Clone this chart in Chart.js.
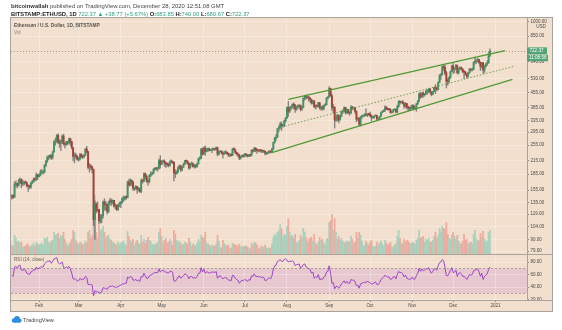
<!DOCTYPE html>
<html><head><meta charset="utf-8">
<script src="https://cdn.jsdelivr.net/npm/chart.js@4.4.1/dist/chart.umd.min.js"></script>
<style>html,body{margin:0;padding:0;background:#fff;overflow:hidden}canvas{display:block}</style>
</head><body>
<canvas id="c" width="562" height="330"></canvas>
<script>
// ---- Daily candles, BITSTAMP:ETHUSD, 12 Jan 2020 (index 0) .. 28 Dec 2020 (index 351) ----
const opens = [
143.5,146.5,143.6,165.6,166.4,163.7,171.2,174.4,166.5,166.9,169.6,168.5,162.9,162.4,160.8,168.3,170.4,175.1,174.8,184.1,
180.0,183.2,188.9,189.0,189.5,204.0,212.5,222.5,223.4,228.3,222.9,236.7,265.0,268.5,284.5,264.5,260.5,267.0,282.0,259.0,257.5,265.0,261.8,274.0,265.0,248.0,225.0,227.5,226.0,
218.0,218.5,231.0,224.5,224.0,228.5,244.5,237.5,199.5,201.0,200.5,195.0,112.0,133.0,124.0,125.5,110.5,113.5,117.0,136.0,132.0,132.5,122.5,135.0,138.0,136.0,138.5,130.0,131.0,125.0,132.0,
133.5,135.5,141.0,141.5,144.0,143.0,169.5,164.5,173.0,170.0,158.0,158.5,161.5,156.5,157.5,153.0,172.0,171.0,186.5,180.0,171.5,170.5,182.5,185.0,187.0,194.5,197.5,196.5,197.0,215.0,
206.5,212.0,214.0,210.0,208.0,206.0,204.0,212.5,212.5,211.0,188.0,186.0,189.5,199.0,203.0,194.0,200.0,206.5,214.0,213.5,209.0,198.5,207.0,207.5,201.0,204.0,201.0,208.0,219.5,220.0,244.0,
231.0,247.0,237.5,244.0,244.5,240.5,242.0,244.0,245.0,243.5,248.0,231.0,237.0,239.0,234.0,231.0,235.0,235.5,233.0,229.0,229.5,227.5,244.0,243.0,236.0,232.0,229.5,221.5,225.0,228.0,
226.0,231.0,229.0,225.0,229.0,228.0,241.0,239.0,247.0,242.0,241.5,239.5,242.0,239.0,240.0,238.0,232.5,233.0,236.0,239.0,236.0,245.0,263.0,275.0,279.0,305.0,311.0,322.0,317.0,318.0,334.0,
345,386,371,386,389,401,395,379,391,391,395,379,387,428,437,433,433,429,423,406,416,389,395,392,408,384,386,382,395,399,428,
434,478,440,385,388,336,353,353,337,351,368,374,387,365,377,364,365,389,384,385,370,340,344,321,348,351,354,357,355,360,
359,353,346,346,352,354,340,341,350,365,370,375,387,381,379,378,366,368,377,379,368,392,414,409,411,406,393,404,388,386,382,
386,395,383,387,402,415,449,434,454,444,449,462,462,475,461,447,460,480,479,472,509,549,557,608,603,567,518,517,538,574,
614,587,597,616,569,596,601,592,574,573,560,545,567,591,586,590,636,644,654,657,638,608,635,584,612,626,634,683.85
];
const highs = [
147.4,147.2,170.0,172.0,167.5,175.0,178.0,176.0,173.5,170.5,172.0,169.5,163.5,164.0,168.5,173.0,177.5,178.0,187.5,184.5,
185.5,194.0,195.5,192.0,205.5,215.5,226.0,227.5,229.5,229.0,239.0,268.0,276.0,287.0,290.0,271.0,270.0,285.0,288.0,262.0,266.0,266.0,275.5,275.5,266.0,249.0,234.0,233.5,228.0,
223.0,232.5,232.0,228.0,230.0,245.5,251.5,238.0,208.5,206.0,202.5,196.0,138.0,135.0,136.5,125.5,118.5,118.5,138.0,141.0,137.0,133.0,137.5,141.5,141.0,139.5,138.5,133.5,132.0,133.0,136.0,
137.0,143.0,145.5,145.0,145.5,171.5,175.0,176.0,174.0,170.5,160.0,163.5,162.0,160.0,159.0,175.5,175.0,188.0,187.5,183.5,174.5,184.5,190.5,189.0,197.0,199.0,198.5,200.0,219.0,227.5,
215.0,216.5,217.0,211.5,210.0,209.0,214.5,217.0,214.0,212.0,195.0,192.5,200.5,205.0,204.0,201.5,209.0,215.5,216.0,215.0,210.0,208.5,212.0,210.0,206.5,206.0,209.0,221.0,225.0,246.0,247.5,
250.5,253.0,245.5,246.5,247.0,243.5,245.5,247.5,246.5,250.5,249.5,238.5,240.5,239.5,236.0,238.5,240.0,237.0,234.0,230.5,232.5,246.0,248.0,244.0,237.0,234.0,230.0,226.0,228.5,229.0,
233.0,232.0,230.0,230.0,229.5,242.5,243.0,248.0,248.0,242.5,242.0,243.5,243.0,241.0,241.0,239.0,234.5,237.5,240.0,239.0,246.5,264.0,278.0,287.0,307.0,315.0,328.0,330.0,320.0,337.0,346.0,
390,414,390,393,403,408,400,393,398,399,398,390,430,442,444,439,439,432,424,418,418,398,398,410,409,392,395,397,404,432,438,
488,479,448,399,390,355,358,357,356,372,378,390,388,381,379,369,395,391,388,386,373,346,345,351,356,356,362,381,361,362,
368,357,350,353,356,356,344,352,368,373,377,395,392,384,383,381,370,379,382,380,397,418,416,413,419,407,409,405,392,388,395,
399,398,390,405,418,455,457,456,460,452,470,472,476,477,459,463,485,498,482,513,557,564,612,620,616,578,531,545,580,617,
636,600,623,619,598,607,605,593,578,576,561,571,596,592,597,642,676,656,665,658,641,637,638,615,629,648,710,740
];
const lows = [
140.5,141.5,143.0,160.5,159.0,162.0,167.0,159.0,163.0,164.0,166.0,160.5,153.0,157.5,158.0,166.0,169.0,172.0,172.5,174.0,
179.0,181.5,185.5,185.0,188.0,201.0,210.5,217.0,220.0,217.5,219.0,236.0,255.0,262.0,259.0,249.0,240.0,260.0,255.0,247.0,254.0,256.0,259.5,254.0,245.0,215.0,210.0,220.0,216.0,
213.5,216.0,221.5,220.0,222.0,227.0,234.0,196.0,189.5,195.0,187.5,105.0,90.0,120.5,122.0,107.0,108.0,108.0,114.0,124.0,124.5,119.0,121.0,132.0,131.0,133.0,128.5,126.0,124.0,124.0,129.0,
128.0,134.0,137.0,139.0,140.0,142.5,162.0,162.5,163.5,154.5,154.5,156.0,149.5,153.5,151.5,151.0,167.5,170.5,175.0,168.5,163.5,168.0,180.0,183.5,185.5,193.5,193.5,191.5,195.5,198.0,
205.5,210.0,202.0,199.5,201.5,200.5,202.0,209.0,208.5,172.0,178.0,185.0,188.0,196.0,191.0,192.0,199.0,205.5,209.5,206.0,195.0,197.0,204.0,200.0,198.0,198.5,200.0,206.5,216.0,219.5,228.5,
230.0,228.0,236.5,238.0,239.0,240.0,234.5,241.5,240.0,242.5,226.5,228.5,236.0,231.0,221.0,230.0,232.0,229.5,225.0,224.5,226.0,227.0,240.0,232.0,228.0,225.5,217.5,218.5,222.5,223.5,
224.0,226.5,224.0,224.5,225.0,226.5,236.0,237.5,237.0,233.0,238.0,236.5,235.5,235.0,235.5,229.0,230.0,231.5,233.5,234.0,235.0,242.0,261.0,269.0,277.5,295.0,306.0,300.0,311.0,313.0,328.0,
343,350,365,377,384,380,366,375,383,385,372,375,386,419,424,426,415,409,401,402,386,380,387,390,380,376,375,377,393,398,424,
433,438,373,362,308,332,333,326,336,349,362,370,360,362,360,355,361,376,380,362,330,335,316,315,343,349,350,354,350,354,
349,334,343,343,351,339,337,338,349,364,369,370,377,375,374,363,363,366,375,364,365,387,401,406,402,383,387,380,372,373,378,
380,376,380,371,400,414,429,432,434,438,446,448,455,453,440,444,459,451,465,470,508,528,553,583,555,480,495,507,533,574,
560,568,591,560,560,587,584,567,532,553,534,541,565,578,580,586,625,630,639,626,582,598,563,569,602,615,630,680.67
];
const closes = [
146.5,143.6,165.6,166.4,163.7,171.2,174.4,166.5,166.9,169.6,168.5,162.9,162.4,160.8,168.3,170.4,175.1,174.8,184.1,180.0,
183.2,188.9,189.0,189.5,204.0,212.5,222.5,223.4,228.3,222.9,236.7,265.0,268.5,284.5,264.5,260.5,267.0,282.0,259.0,257.5,265.0,261.8,274.0,265.0,248.0,225.0,227.5,226.0,218.0,
218.5,231.0,224.5,224.0,228.5,244.5,237.5,199.5,201.0,200.5,195.0,112.0,133.0,124.0,125.5,110.5,113.5,117.0,136.0,132.0,132.5,122.5,135.0,138.0,136.0,138.5,130.0,131.0,125.0,132.0,133.5,
135.5,141.0,141.5,144.0,143.0,169.5,164.5,173.0,170.0,158.0,158.5,161.5,156.5,157.5,153.0,172.0,171.0,186.5,180.0,171.5,170.5,182.5,185.0,187.0,194.5,197.5,196.5,197.0,215.0,206.5,
212.0,214.0,210.0,208.0,206.0,204.0,212.5,212.5,211.0,188.0,186.0,189.5,199.0,203.0,194.0,200.0,206.5,214.0,213.5,209.0,198.5,207.0,207.5,201.0,204.0,201.0,208.0,219.5,220.0,244.0,231.0,
247.0,237.5,244.0,244.5,240.5,242.0,244.0,245.0,243.5,248.0,231.0,237.0,239.0,234.0,231.0,235.0,235.5,233.0,229.0,229.5,227.5,244.0,243.0,236.0,232.0,229.5,221.5,225.0,228.0,226.0,
231.0,229.0,225.0,229.0,228.0,241.0,239.0,247.0,242.0,241.5,239.5,242.0,239.0,240.0,238.0,232.5,233.0,236.0,239.0,236.0,245.0,263.0,275.0,279.0,305.0,311.0,322.0,317.0,318.0,334.0,345.0,
386,371,386,389,401,395,379,391,391,395,379,387,428,437,433,433,429,423,406,416,389,395,392,408,384,386,382,395,399,428,434,
478,440,385,388,336,353,353,337,351,368,374,387,365,377,364,365,389,384,385,370,340,344,321,348,351,354,357,355,360,359,
353,346,346,352,354,340,341,350,365,370,375,387,381,379,378,366,368,377,379,368,392,414,409,411,406,393,404,388,386,382,386,
395,383,387,402,415,449,434,454,444,449,462,462,475,461,447,460,480,479,472,509,549,557,608,603,567,518,517,538,574,614,
587,597,616,569,596,601,592,574,573,560,545,567,591,586,590,636,644,654,657,638,608,635,584,612,626,634,683.6,722.37
];
// volume (thousand ETH, estimated)
const volumes = [
45,40,95,80,60,65,55,60,35,38,40,50,48,35,40,45,55,40,60,50,
45,50,55,45,80,75,85,60,55,65,70,110,95,100,105,80,95,90,110,75,55,40,50,60,75,120,110,70,55,
50,60,55,45,50,65,55,110,120,80,95,200,300,110,85,150,120,125,140,110,80,90,95,75,70,60,55,50,45,60,50,
55,60,65,50,40,115,90,70,60,75,45,60,70,55,50,95,60,75,55,70,85,70,65,50,45,50,50,60,110,130,
90,55,70,80,55,60,75,65,45,120,100,70,60,65,55,45,50,60,55,50,80,60,40,50,45,40,55,75,60,95,85,
80,110,55,50,45,35,45,40,40,50,95,65,35,30,70,55,45,40,45,30,30,55,50,45,45,40,50,35,40,35,
40,40,35,25,30,55,45,60,55,45,25,30,40,35,35,45,30,30,30,30,50,85,100,90,110,120,150,130,90,100,95,
140,180,110,90,95,80,100,60,55,70,95,80,130,110,85,60,75,80,85,65,100,55,45,60,85,70,75,55,45,75,80,
160,170,200,120,180,110,75,90,70,80,65,55,60,65,60,65,90,75,55,60,110,80,110,95,65,45,40,65,55,45,
60,70,40,35,40,60,45,55,65,50,40,70,55,45,50,60,35,35,45,50,90,120,80,55,50,75,60,70,65,55,50,
60,55,50,70,80,120,80,85,90,60,75,70,80,60,60,70,90,110,80,95,130,110,140,130,125,160,100,80,75,95,
110,90,75,95,65,55,50,65,100,70,75,55,55,60,50,100,120,75,70,65,105,85,115,75,60,65,110,120
];
// RSI(14, close)
const rsi = [
59,57,72,73,70,74,75,67,67,68,67,62,61,60,64,65,68,67,72,69,
70,72,72,72,77,79,81,81,82,78,81,85,86,87,79,77,78,80,71,70,72,71,73,69,62,53,53,52,50,
50,54,52,52,53,57,55,44,44,44,43,26,34,32,33,30,31,32,39,38,38,36,40,41,41,42,40,40,39,41,42,
43,45,45,46,46,56,54,57,56,51,51,52,50,51,49,57,56,62,58,54,54,58,59,60,62,63,63,63,69,64,
66,67,65,64,63,62,65,65,64,50,49,52,56,58,54,56,58,61,60,58,53,57,57,54,55,54,57,62,62,71,64,
68,62,64,64,62,63,64,64,63,65,54,57,58,55,53,55,55,54,51,51,50,59,58,54,52,51,46,49,51,50,
52,51,49,52,51,58,57,61,57,57,56,57,55,56,55,50,51,53,55,53,58,69,74,75,81,82,84,81,81,84,85,
83,80,81,81,82,80,74,76,76,77,70,72,76,77,72,71,69,68,62,64,54,56,55,60,52,53,52,56,57,64,65,
74,62,46,47,37,41,41,38,41,45,47,50,46,49,46,46,52,51,51,48,42,43,38,45,46,47,48,47,49,48,
47,45,45,47,48,44,44,47,52,54,56,59,57,56,56,52,53,56,57,53,60,65,63,63,61,56,59,54,53,52,53,
56,52,53,58,62,70,65,69,66,67,69,69,71,66,62,65,69,69,67,74,79,80,84,82,71,58,58,62,67,71,
63,64,67,57,62,63,61,57,57,55,52,56,60,59,60,66,67,68,69,64,57,62,52,57,59,61,68,72
];
// time axis: day index of month starts and labels
const monthTicks  = [20, 49, 80, 110, 141, 171, 202, 233, 263, 294, 324, 355];
const monthLabels = ['Feb','Mar','Apr','May','Jun','Jul','Aug','Sep','Oct','Nov','Dec','2021'];
// price axis tick labels (log scale)
const priceTicks = [1000, 850, 640, 530, 455, 385, 335, 295, 255, 215, 185, 155, 135, 119, 104, 90, 79];
const rsiTicks = [80, 60, 40, 20];
const rsiBand = [30, 70];
// drawn channel lines: [dayIndex, price]
const upperLine = [[203.0, 423.5], [362.1, 724.5]];
const lowerLine = [[190.8, 234.8], [367.5, 528.0]];
const midLine   = [[200.6, 315.3], [369.4, 611.9]];
const lastPrice = 722.37;
const countdown = '11:08:56';

const FONT = '"Liberation Sans", Arial, Helvetica, sans-serif';
const PANE_BG = '#f2dfcd', GRID = 'rgba(255,255,255,0.3)', SEP = '#a8a39d', TXT = '#4a4a4a';
const UP = '#3f9466', DN = '#a83d33', WICK = 'rgba(105,105,105,0.8)';
const VUP = '#a8d1be', VDN = '#eeab9f';
const CH = '#4f9a36', CHMID = '#6fa350', RSI_C = '#9c46c8', BAND = 'rgba(200,130,215,0.24)';
const LABEL_BG = '#52a477', TGREEN = '#2f9e83';

const idx = closes.map((_, i) => i);
const isUp = idx.map(i => closes[i] >= opens[i]);

const panePlugin = {
  id: 'pane',
  beforeDraw(chart) {
    const {ctx, chartArea: a, scales} = chart;
    ctx.save();
    ctx.fillStyle = '#fff'; ctx.fillRect(0, 0, chart.width, chart.height);
    ctx.fillStyle = PANE_BG;
    ctx.fillRect(a.left, a.top, scales.y.right - a.left, scales.x.bottom - a.top);
    const yr = scales.yR;
    const t = yr.getPixelForValue(rsiBand[1]), b = yr.getPixelForValue(rsiBand[0]);
    ctx.fillStyle = BAND; ctx.fillRect(a.left, t, a.right - a.left, b - t);
    ctx.restore();
  },
  beforeDatasetsDraw(chart) {
    const {ctx, chartArea: a, scales} = chart;
    ctx.save();
    ctx.strokeStyle = 'rgba(120,120,120,0.55)'; ctx.lineWidth = 1; ctx.setLineDash([2, 2]);
    for (const v of rsiBand) {
      const y = Math.round(scales.yR.getPixelForValue(v)) + 0.5;
      ctx.beginPath(); ctx.moveTo(a.left, y); ctx.lineTo(a.right, y); ctx.stroke();
    }
    ctx.setLineDash([1, 2]); ctx.strokeStyle = 'rgba(110,110,110,0.6)';
    const yl = Math.round(scales.y.getPixelForValue(lastPrice)) + 0.5;
    ctx.beginPath(); ctx.moveTo(a.left, yl); ctx.lineTo(a.right, yl); ctx.stroke();
    ctx.restore();
  },
  afterDraw(chart) {
    const {ctx, chartArea: a, scales} = chart;
    const R = scales.y.right, B = scales.x.bottom;
    ctx.save();
    // separators and frame
    ctx.strokeStyle = SEP; ctx.lineWidth = 1;
    const hl = (y, x0, x1) => { ctx.beginPath(); ctx.moveTo(x0, Math.round(y) + 0.5); ctx.lineTo(x1, Math.round(y) + 0.5); ctx.stroke(); };
    hl(scales.yR.top, a.left, R);
    hl(a.bottom, a.left, R);
    ctx.strokeRect(Math.round(a.left) - 0.5, Math.round(a.top) - 0.5, Math.round(R - a.left) + 1, Math.round(B - a.top) + 1);
    // last price labels
    const yl = scales.y.getPixelForValue(lastPrice);
    const xl = scales.y.left;
    ctx.fillStyle = LABEL_BG;
    ctx.fillRect(xl, yl - 3.6, 20, 7);
    ctx.fillRect(xl, yl + 3.9, 21, 6.4);
    ctx.fillStyle = '#fff'; ctx.font = `4.6px ${FONT}`; ctx.textBaseline = 'middle'; ctx.textAlign = 'left';
    ctx.fillText(lastPrice.toFixed(2), xl + 2.5, yl);
    ctx.fillText(countdown, xl + 2, yl + 7.2);
    ctx.fillStyle = TXT; ctx.textAlign = 'center';
    ctx.fillText('USD', xl + 14, a.top + 8.8);
    // pane titles
    ctx.textAlign = 'left';
    ctx.fillStyle = '#555'; ctx.font = `bold 4.8px ${FONT}`;
    ctx.fillText('Ethereum / U.S. Dollar, 1D, BITSTAMP', a.left + 3, 26);
    ctx.fillStyle = '#888'; ctx.font = `4.8px ${FONT}`;
    ctx.fillText('Vol', a.left + 3, 33);
    ctx.fillStyle = '#666'; ctx.font = `4.6px ${FONT}`;
    ctx.fillText('RSI (14, close)', a.left + 3, scales.yR.top + 5.5);
    // header
    const runs = (x, y, list, size) => {
      for (const r of list) {
        ctx.font = `${r.b ? 'bold ' : ''}${size}px ${FONT}`;
        ctx.fillStyle = r.c; ctx.fillText(r.t, x, y);
        x += ctx.measureText(r.t).width;
      }
    };
    runs(11, 6, [
      {t: 'bitcoinwallah', b: true, c: '#333'},
      {t: ' published on TradingView.com, December 28, 2020 12:51:08 GMT', c: '#444'}
    ], 5.9);
    runs(11, 14, [
      {t: 'BITSTAMP:ETHUSD, 1D ', b: true, c: '#222'},
      {t: '722.37 \u25B2 +38.77 (+5.67%) ', c: TGREEN},
      {t: 'O:', b: true, c: '#222'}, {t: '683.85 ', c: TGREEN},
      {t: 'H:', b: true, c: '#222'}, {t: '740.00 ', c: TGREEN},
      {t: 'L:', b: true, c: '#222'}, {t: '680.67 ', c: TGREEN},
      {t: 'C:', b: true, c: '#222'}, {t: '722.37', c: TGREEN}
    ], 5.8);
    // footer logo
    ctx.fillStyle = '#2e8fe0';
    ctx.beginPath();
    ctx.arc(14, 320.5, 2.3, 0, Math.PI * 2);
    ctx.arc(17, 318.8, 2.9, 0, Math.PI * 2);
    ctx.arc(19.6, 320.6, 2.1, 0, Math.PI * 2);
    ctx.fill();
    ctx.fillRect(14, 320, 5.6, 2.7);
    ctx.fillStyle = '#444'; ctx.font = `5.6px ${FONT}`;
    ctx.fillText('TradingView', 23, 320);
    ctx.restore();
  }
};

const tickFont = {family: FONT, size: 4.5};

new Chart(document.getElementById('c'), {
  type: 'bar',
  data: {
    datasets: [
      {type: 'line', data: idx.map(i => ({x: i, y: rsi[i]})), yAxisID: 'yR', xAxisID: 'x',
       borderColor: RSI_C, borderWidth: 1, pointRadius: 0, tension: 0, order: 1},
      {type: 'line', data: upperLine.map(p => ({x: p[0], y: p[1]})), yAxisID: 'y', xAxisID: 'x',
       borderColor: CH, borderWidth: 1.3, pointRadius: 0, order: 2},
      {type: 'line', data: lowerLine.map(p => ({x: p[0], y: p[1]})), yAxisID: 'y', xAxisID: 'x',
       borderColor: CH, borderWidth: 1.3, pointRadius: 0, order: 2},
      {type: 'line', data: midLine.map(p => ({x: p[0], y: p[1]})), yAxisID: 'y', xAxisID: 'x',
       borderColor: CHMID, borderWidth: 1, borderDash: [1.5, 1.8], pointRadius: 0, order: 2},
      {data: idx.map(i => ({x: i, y: [opens[i], closes[i]]})), yAxisID: 'y', xAxisID: 'x',
       backgroundColor: isUp.map(u => u ? UP : DN), barThickness: 1.2, minBarLength: 1, grouped: false, order: 3},
      {data: idx.map(i => ({x: i, y: [lows[i], highs[i]]})), yAxisID: 'y', xAxisID: 'x',
       backgroundColor: WICK, barThickness: 0.7, grouped: false, order: 4},
      {data: idx.map(i => ({x: i, y: volumes[i]})), yAxisID: 'yV', xAxisID: 'x',
       backgroundColor: isUp.map(u => u ? VUP : VDN), barThickness: 1.1, grouped: false, order: 5}
    ]
  },
  options: {
    responsive: false, animation: false, devicePixelRatio: 1,
    layout: {padding: {left: 11, top: 18, right: 10, bottom: 19}},
    plugins: {legend: {display: false}, tooltip: {enabled: false}},
    scales: {
      x: {type: 'linear', position: 'bottom', min: -0.6, max: 378.2, offset: false,
          grid: {color: GRID, offset: false, tickLength: 2, tickColor: '#888'},
          border: {display: true, color: SEP},
          afterBuildTicks: s => { s.ticks = monthTicks.map(v => ({value: v})); },
          afterFit: s => { s.height = 11; },
          ticks: {autoSkip: false, maxRotation: 0, padding: 1.5, font: tickFont, color: TXT,
                  callback: v => monthLabels[monthTicks.indexOf(v)]}},
      y: {type: 'logarithmic', position: 'right', stack: 'right', stackWeight: 236, min: 76.6, max: 1040,
          grid: {color: GRID, tickLength: 2, tickColor: '#888'},
          border: {display: true, color: SEP},
          afterBuildTicks: s => { s.ticks = priceTicks.map(v => ({value: v})); },
          afterFit: s => { s.width = 25; },
          ticks: {autoSkip: false, padding: 1.5, font: tickFont, color: TXT, callback: v => Number(v).toFixed(2)}},
      yR: {type: 'linear', position: 'right', stack: 'right', stackWeight: 46, min: 19.2, max: 92.8,
           grid: {color: GRID, tickLength: 2, tickColor: '#888'},
           border: {display: true, color: SEP},
           afterBuildTicks: s => { s.ticks = rsiTicks.map(v => ({value: v})); },
           afterFit: s => { s.width = 25; },
           ticks: {autoSkip: false, padding: 1.5, font: tickFont, color: TXT, callback: v => Number(v).toFixed(2)}},
      yV: {type: 'linear', display: false, position: 'left', min: -234, max: 1200}
    }
  },
  plugins: [panePlugin]
});
</script>
</body></html>
